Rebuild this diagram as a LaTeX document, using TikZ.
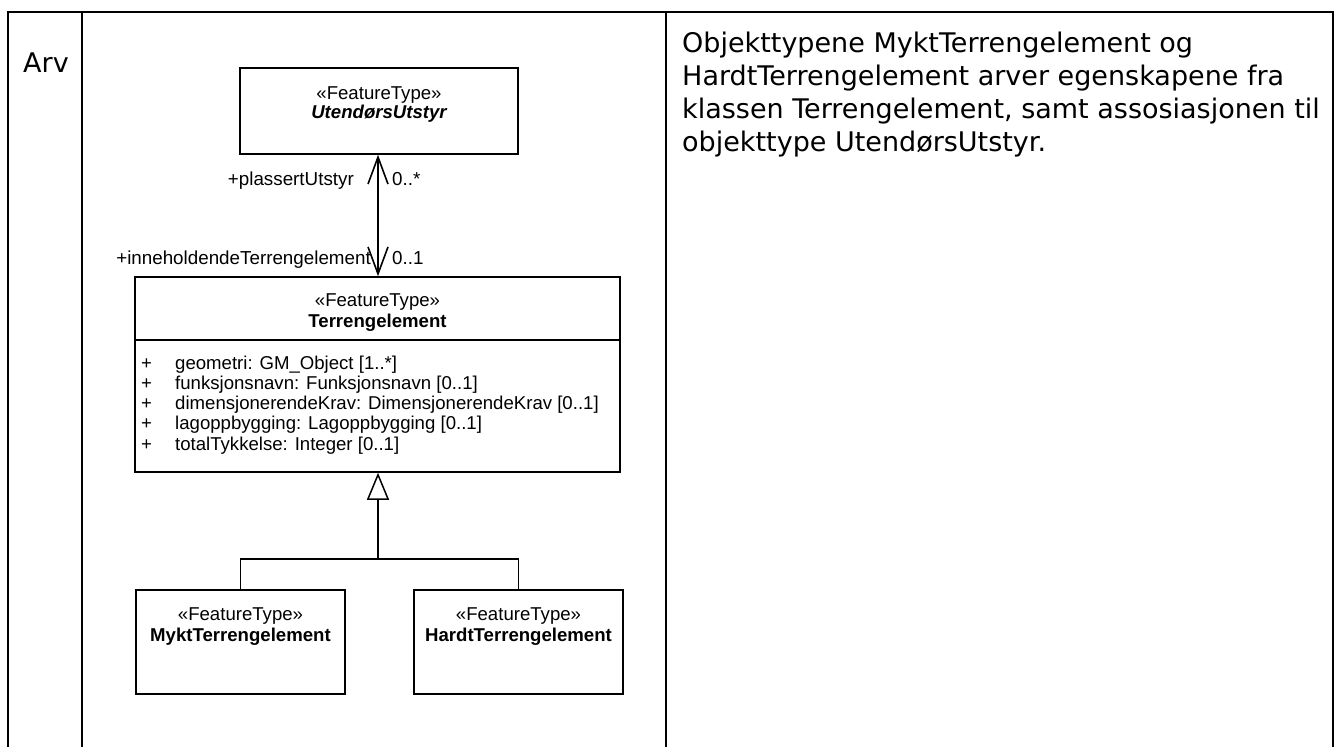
\documentclass[tikz,border=0pt]{standalone}
\usepackage{fontspec}
\setmainfont{Liberation Sans}
\newfontfamily\notefont{DejaVu Sans}
\usetikzlibrary{arrows.meta}
\begin{document}
\begin{tikzpicture}[x=1pt,y=-1pt,
  frame/.style={line width=2.4pt},
  umlbox/.style={draw, line width=1.5pt, rectangle, inner sep=0pt},
  umltxt/.style={inner sep=0pt, anchor=base, font=\fontsize{18.6}{21}\selectfont},
  attrtxt/.style={inner sep=0pt, anchor=base west, font=\fontsize{18.6}{21}\selectfont},
  roletxt/.style={inner sep=0pt, font=\fontsize{18.8}{21}\selectfont},
  notetxt/.style={inner sep=0pt, anchor=base west, font=\notefont\fontsize{27}{33}\selectfont},
  assoc/.style={line width=1.6pt, {Straight Barb[length=27pt,width=20pt]}-{Straight Barb[length=27pt,width=20pt]}},
  gen/.style={line width=1.5pt, -{Triangle[open,length=27pt,width=22pt]}},
  tree/.style={line width=1.5pt}
]
\path[use as bounding box] (0,0) rectangle (1339,747);

% table frame
\draw[frame] (8,747) |- (1333,12) -- (1333,747);
\draw[frame] (82,12) -- (82,747);
\draw[frame] (666,12) -- (666,747);

\node[notetxt] (arv) at (23,72) {Arv};

% explanation text
\node[notetxt] (note1) at (682,52) {Objekttypene MyktTerrengelement og};
\node[notetxt] (note2) at (682,85) {HardtTerrengelement arver egenskapene fra};
\node[notetxt] (note3) at (682,118) {klassen Terrengelement, samt assosiasjonen til};
\node[notetxt] (note4) at (682,151) {objekttype UtendørsUtstyr.};

% classes
\node[umlbox, minimum width=278pt, minimum height=86pt] (utst) at (379,111) {};
\node[umltxt] (utstst) at (379,99) {«FeatureType»};
\node[umltxt, font=\fontsize{18.6}{21}\selectfont\bfseries\itshape] (utstnm) at (379,118) {UtendørsUtstyr};

\node[umlbox, minimum width=485pt, minimum height=195pt] (terr) at (377.5,374.5) {};
\coordinate (divy) at (0,340);
\draw[line width=1.5pt] (terr.west |- divy) -- (terr.east |- divy);
\node[umltxt] (terrst) at (377.5,306) {«FeatureType»};
\node[umltxt, font=\fontsize{18.6}{21}\selectfont\bfseries] (terrnm) at (377.5,327) {Terrengelement};

\node[attrtxt] (p1) at (141,369) {+};
\node[attrtxt] (a1) at (175,369) {geometri: GM\_Object [1..*]};
\node[attrtxt] (p2) at (141,389.3) {+};
\node[attrtxt] (a2) at (175,389.3) {funksjonsnavn: Funksjonsnavn [0..1]};
\node[attrtxt] (p3) at (141,409.6) {+};
\node[attrtxt] (a3) at (175,409.6) {dimensjonerendeKrav: DimensjonerendeKrav [0..1]};
\node[attrtxt] (p4) at (141,429.9) {+};
\node[attrtxt] (a4) at (175,429.9) {lagoppbygging: Lagoppbygging [0..1]};
\node[attrtxt] (p5) at (141,450.2) {+};
\node[attrtxt] (a5) at (175,450.2) {totalTykkelse: Integer [0..1]};

\node[umlbox, minimum width=209pt, minimum height=104pt] (mykt) at (240.5,642) {};
\node[umltxt] (myktst) at (240.5,620) {«FeatureType»};
\node[umltxt, font=\fontsize{18.6}{21}\selectfont\bfseries] (myktnm) at (240.5,641) {MyktTerrengelement};

\node[umlbox, minimum width=209pt, minimum height=104pt] (hardt) at (518.5,642) {};
\node[umltxt] (hardtst) at (518.5,620) {«FeatureType»};
\node[umltxt, font=\fontsize{18.6}{21}\selectfont\bfseries] (hardtnm) at (518.5,641) {HardtTerrengelement};

% association
\coordinate (ax) at (378,0);
\draw[assoc] (terr.north -| ax) -- (utst.south -| ax);
\node[roletxt, anchor=base east] (role1) at (354,185) {+plassertUtstyr};
\node[roletxt, anchor=base west] (mult1) at (392,185) {0..*};
\node[roletxt, anchor=base east] (role2) at (371,264) {+inneholdendeTerrengelement};
\node[roletxt, anchor=base west] (mult2) at (392,264) {0..1};

% generalization
\coordinate (jn) at (378,559);
\draw[tree] (mykt.north) |- (jn) -| (hardt.north);
\draw[gen] (jn) -- (jn |- terr.south);
\end{tikzpicture}
\end{document}
